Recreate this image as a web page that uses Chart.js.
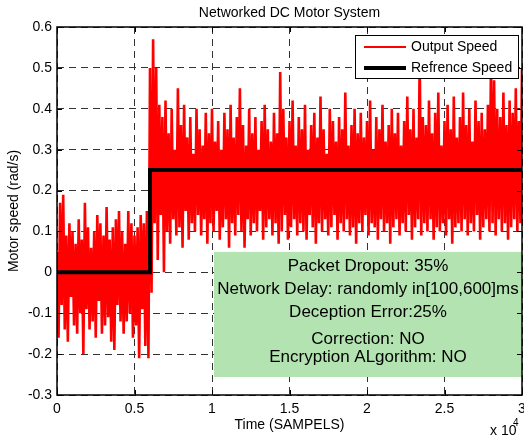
<!DOCTYPE html>
<html>
<head>
<meta charset="utf-8">
<title>Networked DC Motor System</title>
<script src="https://cdn.jsdelivr.net/npm/chart.js@4.4.1/dist/chart.umd.min.js"></script>
<style>
  body { margin: 0; background: #fff; }
  canvas { display: block; }
</style>
</head>
<body>
<canvas id="myChart" width="524" height="438"></canvas>
<script>
"use strict";
// one reading every 100 samples
const sampleStep = 100;
const outputSpeed = [
  // 0 .. 5900 : reference is 0
  0.05, -0.16, 0.17, -0.08, 0.19, -0.14, 0.09, -0.17, 0.12, -0.06,
  0.1, -0.13, 0.07, -0.15, 0.13, -0.1, 0.08, -0.2, 0.17, -0.09,
  0.11, -0.14, 0.06, -0.12, 0.1, -0.16, 0.14, -0.07, 0.12, -0.15,
  0.09, -0.13, 0.16, -0.11, 0.08, -0.17, 0.11, -0.19, 0.13, -0.08,
  0.15, -0.12, 0.1, -0.15, 0.07, -0.12, 0.15, -0.1, 0.12, -0.16,
  0.09, -0.13, 0.11, -0.21, 0.14, -0.09, 0.12, -0.18, 0.15, -0.21,
  // 6000 .. 30000 : reference is 0.25
  0.5, -0.05, 0.57, 0.12, 0.5, 0.03, 0.41, 0.14, 0.38, 0.0, 0.42, 0.1, 0.34, 0.07, 0.4, 0.13, 0.3, 0.09, 0.45, 0.11,
  0.36, 0.06, 0.41, 0.15, 0.33, 0.08, 0.38, 0.12, 0.29, 0.1, 0.4, 0.14, 0.35, 0.09, 0.31, 0.13, 0.39, 0.07, 0.34, 0.12,
  0.4, 0.1, 0.32, 0.15, 0.37, 0.08, 0.3, 0.11, 0.39, 0.13, 0.35, 0.06, 0.41, 0.12, 0.33, 0.09, 0.38, 0.14, 0.45, 0.1,
  0.36, 0.06, 0.31, 0.13, 0.4, 0.09, 0.34, 0.12, 0.38, 0.1, 0.3, 0.15, 0.37, 0.08, 0.41, 0.11, 0.35, 0.13, 0.32, 0.09,
  0.39, 0.12, 0.34, 0.07, 0.49, 0.1, 0.4, 0.14, 0.33, 0.08, 0.37, 0.11, 0.42, 0.13, 0.31, 0.09, 0.38, 0.12, 0.35, 0.1,
  0.41, 0.08, 0.3, 0.14, 0.36, 0.11, 0.39, 0.07, 0.33, 0.12, 0.43, 0.1, 0.35, 0.13, 0.29, 0.09, 0.4, 0.11, 0.37, 0.14,
  0.32, 0.08, 0.38, 0.12, 0.35, 0.1, 0.44, 0.13, 0.31, 0.09, 0.36, 0.11, 0.4, 0.07, 0.34, 0.12, 0.39, 0.1, 0.33, 0.14,
  0.37, 0.09, 0.42, 0.12, 0.3, 0.11, 0.38, 0.08, 0.35, 0.13, 0.41, 0.1, 0.32, 0.12, 0.36, 0.07, 0.4, 0.11, 0.34, 0.13,
  0.39, 0.09, 0.31, 0.12, 0.37, 0.1, 0.43, 0.14, 0.35, 0.08, 0.4, 0.11, 0.33, 0.13, 0.53, 0.09, 0.38, 0.12, 0.36, 0.1,
  0.42, 0.13, 0.34, 0.08, 0.39, 0.11, 0.44, 0.1, 0.31, 0.12, 0.37, 0.09, 0.41, 0.13, 0.35, 0.07, 0.43, 0.11, 0.33, 0.12,
  0.38, 0.1, 0.44, 0.13, 0.36, 0.09, 0.4, 0.12, 0.32, 0.1, 0.42, 0.14, 0.37, 0.08, 0.39, 0.11, 0.35, 0.13, 0.41, 0.1,
  0.52, 0.12, 0.47, 0.09, 0.4, 0.13, 0.38, 0.1, 0.44, 0.12, 0.36, 0.08, 0.42, 0.11, 0.39, 0.13, 0.45, 0.1, 0.37, 0.12,
  0.5
];
const refTimes = [0, 6000, 6000, 30000];
const refSpeed = [0, 0, 0.25, 0.25];
const xTicks = [0, 0.5, 1, 1.5, 2, 2.5, 3]; // x 10^4
const yTicks = [-0.3, -0.2, -0.1, 0, 0.1, 0.2, 0.3, 0.4, 0.5, 0.6];
const infoLines = [
  "Packet Dropout: 35%",
  "Network Delay: randomly in[100,600]ms",
  "Deception Error:25%",
  "Correction: NO",
  "Encryption ALgorithm: NO",
];

const FONT = "'Liberation Sans', Arial, sans-serif";
// info box corners in data units
const infoBox = { x0: 10130, x1: 30000, y0: 0.05, y1: -0.256 };
const infoLineY = [14, 37, 60, 87, 105];

const outputPoints = outputSpeed.map((v, i) => ({ x: i * sampleStep, y: v }));
const refPoints = refTimes.map((t, i) => ({ x: t, y: refSpeed[i] }));

const matlabFrame = {
  id: "matlabFrame",
  afterDatasetsDraw(chart) {
    const { ctx, chartArea: a, scales: { x, y } } = chart;
    ctx.save();

    // green text box
    const bx0 = x.getPixelForValue(infoBox.x0), bx1 = x.getPixelForValue(infoBox.x1);
    const by0 = y.getPixelForValue(infoBox.y0), by1 = y.getPixelForValue(infoBox.y1);
    ctx.fillStyle = "#b3e3b1";
    ctx.fillRect(bx0, by0, bx1 - bx0, by1 - by0);
    ctx.fillStyle = "#000";
    ctx.font = "17px " + FONT;
    ctx.textAlign = "center";
    ctx.textBaseline = "middle";
    infoLines.forEach((s, i) => ctx.fillText(s, (bx0 + bx1) / 2, by0 + infoLineY[i]));

    // frame + inward ticks
    ctx.strokeStyle = "#000";
    ctx.lineWidth = 1;
    ctx.beginPath();
    xTicks.forEach((t) => {
      const px = Math.round(x.getPixelForValue(t * 10000)) + 0.5;
      ctx.moveTo(px, a.bottom); ctx.lineTo(px, a.bottom - 5);
      ctx.moveTo(px, a.top); ctx.lineTo(px, a.top + 5);
    });
    yTicks.forEach((t) => {
      const py = Math.round(y.getPixelForValue(t)) + 0.5;
      ctx.moveTo(a.left, py); ctx.lineTo(a.left + 5, py);
      ctx.moveTo(a.right, py); ctx.lineTo(a.right - 5, py);
    });
    ctx.stroke();
    ctx.lineWidth = 1.5;
    ctx.strokeRect(a.left, a.top, a.right - a.left, a.bottom - a.top);

    // legend
    const lw = 163, lh = 43;
    const lx = a.right - 4 - lw, ly = a.top + 8;
    ctx.fillStyle = "#fff";
    ctx.fillRect(lx, ly, lw, lh);
    ctx.lineWidth = 1;
    ctx.strokeRect(lx + 0.5, ly + 0.5, lw, lh);
    ctx.font = "14px " + FONT;
    ctx.textAlign = "left";
    chart.data.datasets.forEach((ds, i) => {
      const yy = ly + 12 + i * 21;
      ctx.strokeStyle = ds.borderColor;
      ctx.lineWidth = ds.legendWidth;
      ctx.beginPath();
      ctx.moveTo(lx + 9, yy);
      ctx.lineTo(lx + 51, yy);
      ctx.stroke();
      ctx.fillStyle = "#000";
      ctx.fillText(ds.label, lx + 56, yy);
    });
    ctx.restore();
  },
  afterDraw(chart) {
    const { ctx, chartArea: a } = chart;
    ctx.save();
    ctx.fillStyle = "#000";
    ctx.font = "14px " + FONT;
    ctx.textAlign = "center";
    ctx.textBaseline = "middle";
    ctx.fillText("Networked DC Motor System", (a.left + a.right) / 2, 13);
    ctx.textAlign = "left";
    ctx.fillText("x 10", 490, 431);
    ctx.font = "10px " + FONT;
    ctx.fillText("4", 513, 423);
    ctx.restore();
  },
};

const ctx = document.getElementById("myChart");
const myChart = new Chart(ctx, {
  type: "line",
  data: {
    datasets: [
      {
        label: "Output Speed",
        data: outputPoints,
        borderColor: "#ff0000",
        borderWidth: 2.6,
        legendWidth: 2,
        pointRadius: 0,
        tension: 0,
        borderJoinStyle: "miter",
        order: 2,
      },
      {
        label: "Refrence Speed",
        data: refPoints,
        borderColor: "#000000",
        borderWidth: 4,
        legendWidth: 4,
        pointRadius: 0,
        tension: 0,
        borderJoinStyle: "miter",
        order: 1,
      },
    ],
  },
  options: {
    responsive: false,
    animation: false,
    devicePixelRatio: 1,
    layout: { padding: { top: 27, right: 2, left: 0, bottom: 0 } },
    plugins: { legend: { display: false }, tooltip: { enabled: false } },
    scales: {
      x: {
        type: "linear",
        min: 0,
        max: 30000,
        afterBuildTicks: (s) => { s.ticks = xTicks.map((v) => ({ value: v * 10000 })); },
        afterFit: (s) => { s.height = 43; s.paddingLeft = 0; s.paddingRight = 0; },
        ticks: {
          color: "#000",
          font: { size: 14, family: FONT },
          padding: 6,
          maxRotation: 0,
          callback: (v) => String(v / 10000),
        },
        grid: { color: "#333", drawTicks: false, lineWidth: 1 },
        border: { display: false, dash: [7, 5] },
        title: {
          display: true,
          text: "Time (SAMPELS)",
          color: "#000",
          font: { size: 14, family: FONT },
          padding: { top: 0, bottom: 4 },
        },
      },
      y: {
        min: -0.3,
        max: 0.6,
        afterBuildTicks: (s) => { s.ticks = yTicks.map((v) => ({ value: v })); },
        afterFit: (s) => { s.width = 57; s.paddingTop = 0; s.paddingBottom = 0; },
        ticks: {
          color: "#000",
          font: { size: 14, family: FONT },
          padding: 5,
          callback: (v) => String(Number(v.toFixed(1))),
        },
        grid: { color: "#333", drawTicks: false, lineWidth: 1 },
        border: { display: false, dash: [7, 5] },
        title: {
          display: true,
          text: "Motor speed (rad/s)",
          color: "#000",
          font: { size: 14, family: FONT },
          padding: { top: 6, bottom: 0 },
        },
      },
    },
  },
  plugins: [matlabFrame],
});
</script>
</body>
</html>
